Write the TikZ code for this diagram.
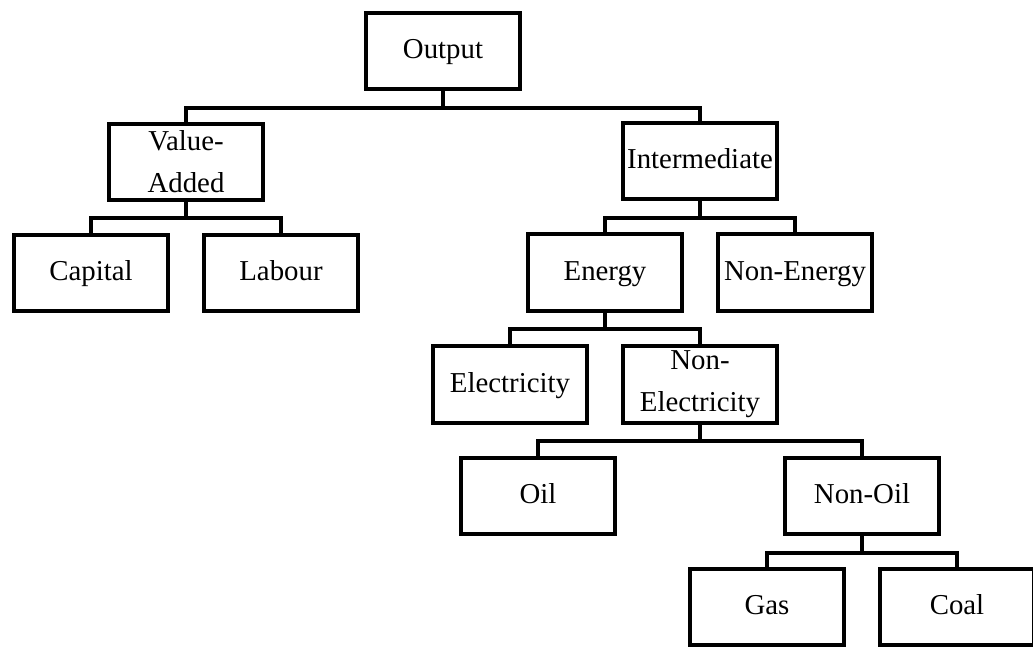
\documentclass[tikz,border=0pt]{standalone}
\usepackage{fontspec}
\setmainfont{Liberation Serif}

\begin{document}
\begin{tikzpicture}[x=0.025cm, y=-0.025cm,
  box/.style={draw, line width=0.1cm, minimum width=3.85cm, minimum height=1.9cm,
    inner sep=0pt, font=\fontsize{20.5}{30}\selectfont},
  oneline/.style={box, text height=15pt, text depth=4pt},
  twoline/.style={box, align=center},
  link/.style={line width=0.1cm}]

  \useasboundingbox (0,0) rectangle (1033,646);

  \node[oneline] (output) at (443,51) {Output};
  \node[twoline] (valadd) at (186,162) {Value-\\Added};
  \node[oneline] (inter) at (700,161) {Intermediate};
  \node[oneline] (capital) at (91,273) {Capital};
  \node[oneline] (labour) at (281,273) {Labour};
  \node[oneline] (energy) at (605,272.5) {Energy};
  \node[oneline] (nonenergy) at (795,272.5) {Non-Energy};
  \node[oneline] (elec) at (510,384.5) {Electricity};
  \node[twoline] (nonelec) at (700,384.5) {Non-\\Electricity};
  \node[oneline] (oil) at (538,496) {Oil};
  \node[oneline] (nonoil) at (862,496) {Non-Oil};
  \node[oneline] (gas) at (767,607) {Gas};
  \node[oneline] (coal) at (957,607) {Coal};

  \draw[link] (output.south) -- ++(0,16.5) coordinate (b1);
  \draw[link] (valadd.north) |- (b1) -| (inter.north);
  \draw[link] (valadd.south) -- ++(0,15.5) coordinate (b2);
  \draw[link] (capital.north) |- (b2) -| (labour.north);
  \draw[link] (inter.south) -- ++(0,16.5) coordinate (b3);
  \draw[link] (energy.north) |- (b3) -| (nonenergy.north);
  \draw[link] (energy.south) -- ++(0,16.5) coordinate (b4);
  \draw[link] (elec.north) |- (b4) -| (nonelec.north);
  \draw[link] (nonelec.south) -- ++(0,16.5) coordinate (b5);
  \draw[link] (oil.north) |- (b5) -| (nonoil.north);
  \draw[link] (nonoil.south) -- ++(0,16.5) coordinate (b6);
  \draw[link] (gas.north) |- (b6) -| (coal.north);

\end{tikzpicture}
\end{document}
